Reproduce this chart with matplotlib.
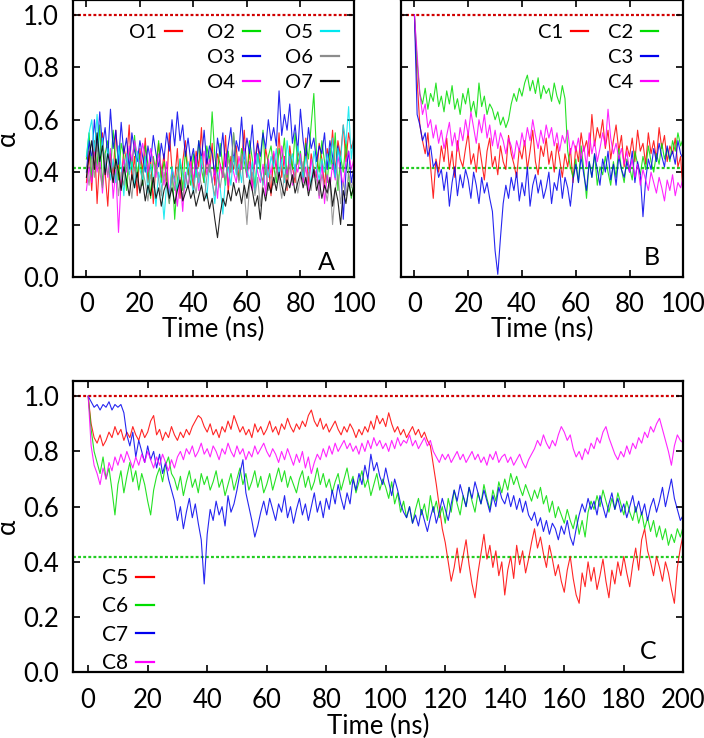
import numpy as np
import matplotlib
matplotlib.use('Agg')
import matplotlib.pyplot as plt
from matplotlib.lines import Line2D
from matplotlib.ticker import FormatStrFormatter

plt.rcParams['font.family'] = ['Lato', 'DejaVu Sans']

# ---------------- Panel A (open), t = 0..100 ns, 1 ns step ----------------
O1 = [0.36,0.48,0.33,0.52,0.28,0.46,0.55,0.40,0.27,0.47,
      0.39,0.56,0.42,0.34,0.50,0.44,0.58,0.37,0.46,0.31,
      0.49,0.40,0.53,0.36,0.45,0.28,0.43,0.51,0.38,0.47,
      0.34,0.55,0.41,0.37,0.49,0.30,0.44,0.52,0.39,0.46,
      0.33,0.48,0.42,0.57,0.36,0.45,0.40,0.51,0.35,0.47,
      0.43,0.38,0.54,0.32,0.46,0.41,0.50,0.37,0.44,0.56,
      0.39,0.48,0.34,0.45,0.52,0.40,0.36,0.49,0.43,0.31,
      0.47,0.41,0.55,0.38,0.46,0.33,0.50,0.42,0.36,0.48,
      0.44,0.39,0.53,0.35,0.47,0.41,0.38,0.51,0.45,0.34,
      0.49,0.43,0.56,0.40,0.52,0.46,0.58,0.44,0.55,0.49,
      0.53]
O2 = [0.45,0.55,0.38,0.50,0.42,0.58,0.35,0.47,0.52,0.40,
      0.56,0.44,0.37,0.51,0.46,0.33,0.49,0.41,0.54,0.38,
      0.47,0.35,0.50,0.43,0.30,0.46,0.40,0.52,0.36,0.44,
      0.39,0.28,0.42,0.22,0.37,0.45,0.33,0.48,0.40,0.35,
      0.47,0.38,0.52,0.41,0.36,0.50,0.44,0.63,0.46,0.39,
      0.51,0.42,0.35,0.48,0.40,0.55,0.43,0.37,0.49,0.44,
      0.38,0.52,0.45,0.34,0.47,0.41,0.56,0.39,0.46,0.50,
      0.42,0.36,0.49,0.44,0.53,0.38,0.47,0.41,0.55,0.43,
      0.48,0.37,0.51,0.45,0.58,0.70,0.47,0.40,0.52,0.44,
      0.36,0.49,0.41,0.55,0.33,0.46,0.40,0.52,0.38,0.30,
      0.36]
O3 = [0.40,0.52,0.45,0.60,0.48,0.63,0.50,0.57,0.46,0.64,
      0.49,0.56,0.43,0.59,0.47,0.53,0.41,0.55,0.48,0.44,
      0.52,0.46,0.40,0.50,0.44,0.54,0.47,0.42,0.51,0.45,
      0.55,0.48,0.60,0.50,0.63,0.52,0.58,0.46,0.53,0.44,
      0.49,0.41,0.52,0.45,0.56,0.43,0.50,0.47,0.39,0.53,
      0.46,0.55,0.42,0.50,0.57,0.44,0.52,0.48,0.61,0.45,
      0.53,0.47,0.58,0.43,0.51,0.46,0.55,0.49,0.60,0.52,
      0.57,0.50,0.71,0.54,0.62,0.56,0.66,0.51,0.58,0.48,
      0.64,0.52,0.45,0.57,0.49,0.53,0.44,0.50,0.47,0.55,
      0.41,0.52,0.46,0.38,0.50,0.43,0.22,0.40,0.48,0.36,
      0.42]
O4 = [0.33,0.42,0.36,0.50,0.40,0.46,0.32,0.44,0.38,0.49,
      0.30,0.41,0.17,0.37,0.45,0.40,0.50,0.44,0.52,0.47,
      0.43,0.51,0.46,0.40,0.49,0.44,0.38,0.47,0.42,0.35,
      0.44,0.31,0.41,0.36,0.27,0.38,0.25,0.40,0.34,0.44,
      0.37,0.46,0.33,0.42,0.48,0.39,0.45,0.36,0.41,0.30,
      0.43,0.38,0.47,0.35,0.44,0.40,0.36,0.46,0.41,0.49,
      0.38,0.44,0.33,0.47,0.40,0.36,0.43,0.31,0.45,0.39,
      0.48,0.42,0.37,0.50,0.44,0.39,0.46,0.35,0.43,0.40,
      0.47,0.36,0.42,0.33,0.45,0.38,0.41,0.30,0.44,0.28,
      0.39,0.34,0.43,0.37,0.46,0.40,0.35,0.44,0.48,0.41,
      0.45]
O5 = [0.46,0.55,0.60,0.48,0.62,0.44,0.53,0.40,0.49,0.37,
      0.45,0.36,0.50,0.42,0.31,0.47,0.39,0.44,0.34,0.48,
      0.41,0.37,0.46,0.32,0.43,0.38,0.27,0.40,0.35,0.22,
      0.36,0.30,0.42,0.37,0.33,0.45,0.39,0.34,0.44,0.38,
      0.32,0.41,0.36,0.46,0.39,0.30,0.43,0.37,0.28,0.40,
      0.34,0.24,0.38,0.42,0.35,0.46,0.39,0.43,0.36,0.48,
      0.41,0.37,0.44,0.32,0.47,0.40,0.35,0.43,0.38,0.46,
      0.42,0.49,0.39,0.45,0.36,0.52,0.43,0.47,0.40,0.50,
      0.44,0.38,0.46,0.41,0.35,0.48,0.42,0.37,0.45,0.40,
      0.47,0.42,0.53,0.38,0.49,0.44,0.58,0.51,0.65,0.45,
      0.55]
O6 = [0.42,0.35,0.46,0.38,0.51,0.40,0.34,0.47,0.39,0.43,
      0.36,0.45,0.31,0.40,0.35,0.44,0.38,0.30,0.42,0.37,
      0.33,0.41,0.36,0.29,0.39,0.34,0.43,0.37,0.31,0.40,
      0.35,0.28,0.38,0.33,0.42,0.36,0.30,0.39,0.34,0.41,
      0.37,0.32,0.40,0.35,0.29,0.38,0.43,0.36,0.31,0.39,
      0.34,0.41,0.37,0.45,0.40,0.55,0.42,0.36,0.47,0.33,
      0.20,0.35,0.40,0.31,0.38,0.27,0.36,0.42,0.33,0.39,
      0.35,0.41,0.37,0.30,0.39,0.34,0.43,0.36,0.40,0.32,
      0.38,0.44,0.35,0.40,0.33,0.42,0.37,0.31,0.39,0.35,
      0.29,0.37,0.20,0.33,0.39,0.28,0.36,0.31,0.40,0.34,
      0.38]
O7 = [0.38,0.46,0.52,0.41,0.55,0.44,0.50,0.39,0.47,0.42,
      0.36,0.45,0.40,0.33,0.42,0.37,0.31,0.39,0.34,0.40,
      0.32,0.37,0.29,0.35,0.31,0.38,0.30,0.34,0.27,0.33,
      0.36,0.30,0.34,0.28,0.33,0.37,0.29,0.32,0.35,0.30,
      0.33,0.27,0.31,0.35,0.29,0.32,0.26,0.30,0.22,0.15,
      0.24,0.30,0.27,0.33,0.29,0.36,0.31,0.34,0.28,0.35,
      0.30,0.37,0.33,0.27,0.31,0.22,0.34,0.29,0.36,0.32,
      0.38,0.33,0.40,0.35,0.31,0.37,0.34,0.39,0.32,0.36,
      0.40,0.34,0.38,0.31,0.36,0.41,0.33,0.37,0.30,0.35,
      0.32,0.38,0.27,0.34,0.29,0.20,0.33,0.28,0.36,0.31,
      0.35]

# ---------------- Panel B (closed), t = 0..100 ns ----------------
C1 = [1.00,0.75,0.58,0.52,0.47,0.55,0.42,0.30,0.45,0.40,
      0.50,0.44,0.53,0.41,0.48,0.38,0.52,0.45,0.42,0.49,
      0.55,0.43,0.47,0.40,0.51,0.44,0.37,0.48,0.53,0.42,
      0.46,0.39,0.50,0.44,0.41,0.54,0.47,0.43,0.38,0.49,
      0.45,0.52,0.41,0.48,0.56,0.44,0.39,0.50,0.46,0.53,
      0.43,0.48,0.40,0.51,0.45,0.38,0.47,0.42,0.49,0.36,
      0.50,0.44,0.55,0.48,0.52,0.46,0.62,0.50,0.57,0.53,
      0.60,0.49,0.56,0.45,0.52,0.58,0.48,0.54,0.42,0.50,
      0.46,0.53,0.44,0.56,0.48,0.51,0.43,0.55,0.47,0.52,
      0.45,0.57,0.49,0.54,0.44,0.50,0.47,0.53,0.42,0.46,
      0.30]
C2 = [1.00,0.82,0.70,0.66,0.72,0.64,0.70,0.67,0.74,0.65,
      0.69,0.63,0.71,0.66,0.73,0.64,0.68,0.62,0.70,0.66,
      0.72,0.63,0.67,0.61,0.74,0.65,0.69,0.62,0.66,0.64,
      0.60,0.63,0.58,0.61,0.57,0.60,0.66,0.70,0.67,0.72,
      0.69,0.74,0.77,0.71,0.75,0.70,0.76,0.68,0.73,0.70,
      0.72,0.67,0.74,0.69,0.66,0.73,0.68,0.48,0.42,0.38,
      0.45,0.36,0.50,0.41,0.30,0.44,0.38,0.47,0.35,0.42,
      0.39,0.46,0.40,0.35,0.44,0.38,0.49,0.41,0.36,0.45,
      0.42,0.37,0.48,0.43,0.39,0.46,0.41,0.50,0.44,0.40,
      0.47,0.43,0.51,0.45,0.49,0.44,0.52,0.48,0.55,0.50,
      0.53]
C3 = [1.00,0.62,0.58,0.52,0.55,0.46,0.50,0.42,0.44,0.38,
      0.41,0.33,0.40,0.27,0.36,0.42,0.31,0.39,0.34,0.41,
      0.37,0.30,0.40,0.35,0.28,0.38,0.32,0.36,0.30,0.25,
      0.10,0.01,0.15,0.28,0.35,0.30,0.38,0.33,0.40,0.29,
      0.36,0.31,0.42,0.27,0.35,0.39,0.32,0.37,0.30,0.34,
      0.40,0.28,0.36,0.33,0.41,0.30,0.38,0.34,0.27,0.37,
      0.43,0.36,0.46,0.39,0.33,0.44,0.38,0.47,0.41,0.35,
      0.45,0.40,0.48,0.37,0.43,0.35,0.46,0.41,0.38,0.44,
      0.40,0.48,0.36,0.44,0.39,0.23,0.37,0.45,0.41,0.49,
      0.44,0.51,0.46,0.42,0.50,0.45,0.48,0.43,0.52,0.47,
      0.45]
C4 = [1.00,0.85,0.70,0.62,0.66,0.57,0.60,0.53,0.58,0.51,
      0.56,0.49,0.54,0.59,0.50,0.55,0.48,0.57,0.52,0.60,
      0.54,0.63,0.57,0.51,0.60,0.55,0.62,0.53,0.58,0.50,
      0.56,0.49,0.55,0.52,0.47,0.53,0.50,0.45,0.52,0.48,
      0.55,0.50,0.57,0.52,0.60,0.54,0.49,0.56,0.51,0.58,
      0.53,0.57,0.50,0.55,0.48,0.54,0.51,0.56,0.47,0.52,
      0.48,0.53,0.45,0.50,0.42,0.55,0.47,0.52,0.44,0.49,
      0.55,0.50,0.64,0.53,0.47,0.51,0.45,0.49,0.43,0.48,
      0.40,0.45,0.38,0.43,0.35,0.41,0.37,0.33,0.40,0.36,
      0.32,0.38,0.34,0.29,0.37,0.33,0.39,0.31,0.36,0.34,
      0.38]

# ---------------- Panel C (closed), t = 0..200 ns ----------------
C5 = [1.00,0.90,0.85,0.83,0.86,0.82,0.84,0.87,0.85,0.89,
      0.86,0.88,0.84,0.87,0.85,0.89,0.86,0.84,0.88,0.85,
      0.87,0.91,0.93,0.86,0.88,0.84,0.87,0.85,0.89,0.86,
      0.84,0.87,0.85,0.88,0.86,0.89,0.91,0.93,0.92,0.89,
      0.87,0.90,0.86,0.88,0.85,0.89,0.87,0.91,0.88,0.93,
      0.90,0.87,0.89,0.86,0.88,0.85,0.90,0.87,0.89,0.86,
      0.88,0.91,0.87,0.89,0.86,0.90,0.88,0.92,0.89,0.87,
      0.90,0.88,0.91,0.89,0.93,0.95,0.91,0.89,0.92,0.88,
      0.90,0.87,0.89,0.91,0.88,0.86,0.89,0.87,0.90,0.88,
      0.85,0.88,0.86,0.89,0.87,0.91,0.88,0.93,0.90,0.92,
      0.89,0.94,0.90,0.87,0.89,0.86,0.88,0.85,0.87,0.89,
      0.86,0.88,0.85,0.87,0.84,0.82,0.75,0.68,0.60,0.52,
      0.47,0.40,0.33,0.38,0.45,0.36,0.42,0.48,0.39,0.32,
      0.27,0.36,0.43,0.50,0.41,0.46,0.38,0.44,0.35,0.40,
      0.28,0.37,0.42,0.34,0.46,0.39,0.44,0.36,0.41,0.47,
      0.52,0.45,0.49,0.43,0.38,0.46,0.41,0.35,0.39,0.33,
      0.29,0.37,0.42,0.34,0.28,0.25,0.36,0.31,0.40,0.33,
      0.38,0.30,0.35,0.41,0.33,0.27,0.37,0.32,0.40,0.35,
      0.42,0.36,0.31,0.39,0.45,0.37,0.48,0.52,0.44,0.40,
      0.35,0.42,0.38,0.33,0.40,0.36,0.30,0.25,0.38,0.45,
      0.50]
C6 = [1.00,0.88,0.80,0.76,0.72,0.78,0.70,0.74,0.66,0.57,
      0.68,0.73,0.65,0.71,0.76,0.69,0.73,0.66,0.72,0.68,
      0.62,0.57,0.66,0.71,0.74,0.69,0.75,0.78,0.72,0.70,
      0.66,0.71,0.64,0.69,0.73,0.67,0.70,0.65,0.72,0.68,
      0.71,0.66,0.69,0.73,0.67,0.70,0.64,0.68,0.72,0.66,
      0.70,0.74,0.68,0.72,0.66,0.69,0.73,0.67,0.71,0.65,
      0.68,0.72,0.66,0.70,0.74,0.69,0.73,0.67,0.71,0.68,
      0.65,0.70,0.73,0.67,0.71,0.66,0.69,0.74,0.68,0.72,
      0.67,0.70,0.65,0.69,0.72,0.66,0.70,0.74,0.68,0.71,
      0.65,0.69,0.73,0.67,0.70,0.64,0.68,0.72,0.66,0.70,
      0.67,0.63,0.69,0.61,0.65,0.58,0.62,0.56,0.60,0.54,
      0.59,0.63,0.57,0.61,0.55,0.64,0.58,0.62,0.56,0.60,
      0.54,0.63,0.58,0.66,0.61,0.57,0.64,0.60,0.67,0.62,
      0.58,0.65,0.61,0.68,0.63,0.59,0.66,0.62,0.69,0.65,
      0.70,0.66,0.72,0.68,0.71,0.67,0.64,0.68,0.65,0.62,
      0.66,0.63,0.67,0.61,0.64,0.58,0.62,0.56,0.60,0.57,
      0.54,0.59,0.55,0.52,0.57,0.50,0.55,0.49,0.58,0.62,
      0.59,0.64,0.60,0.66,0.62,0.58,0.63,0.59,0.65,0.61,
      0.57,0.62,0.58,0.55,0.60,0.54,0.58,0.52,0.56,0.51,
      0.55,0.49,0.53,0.48,0.52,0.46,0.50,0.47,0.52,0.49,
      0.53]
C7 = [1.00,0.98,0.96,0.97,0.95,0.97,0.96,0.98,0.95,0.97,
      0.96,0.97,0.94,0.86,0.82,0.87,0.78,0.84,0.80,0.76,
      0.82,0.77,0.80,0.74,0.79,0.72,0.76,0.70,0.66,0.62,
      0.55,0.60,0.52,0.58,0.63,0.56,0.61,0.54,0.48,0.32,
      0.50,0.59,0.55,0.62,0.57,0.60,0.53,0.64,0.58,0.61,
      0.66,0.72,0.77,0.65,0.60,0.55,0.49,0.53,0.58,0.62,
      0.57,0.63,0.59,0.55,0.61,0.58,0.64,0.56,0.60,0.54,
      0.59,0.63,0.57,0.61,0.55,0.60,0.65,0.58,0.62,0.56,
      0.63,0.59,0.66,0.61,0.68,0.63,0.59,0.65,0.61,0.70,
      0.66,0.72,0.68,0.75,0.70,0.79,0.73,0.76,0.71,0.68,
      0.74,0.69,0.64,0.70,0.66,0.61,0.58,0.56,0.60,0.54,
      0.57,0.53,0.59,0.55,0.51,0.56,0.60,0.54,0.58,0.63,
      0.59,0.55,0.61,0.66,0.62,0.68,0.64,0.60,0.67,0.63,
      0.69,0.65,0.61,0.66,0.62,0.58,0.64,0.60,0.67,0.63,
      0.61,0.65,0.60,0.64,0.59,0.63,0.58,0.62,0.57,0.55,
      0.58,0.53,0.56,0.51,0.55,0.50,0.54,0.52,0.48,0.53,
      0.50,0.55,0.49,0.46,0.52,0.57,0.61,0.58,0.63,0.59,
      0.62,0.57,0.64,0.60,0.56,0.61,0.65,0.59,0.63,0.58,
      0.61,0.56,0.60,0.64,0.58,0.62,0.57,0.61,0.55,0.60,
      0.63,0.58,0.62,0.67,0.60,0.65,0.70,0.63,0.59,0.55,
      0.57]
C8 = [1.00,0.82,0.75,0.72,0.68,0.74,0.70,0.76,0.73,0.78,
      0.75,0.79,0.76,0.80,0.77,0.74,0.78,0.75,0.79,0.76,
      0.80,0.77,0.74,0.78,0.75,0.79,0.76,0.73,0.77,0.74,
      0.78,0.80,0.77,0.81,0.79,0.82,0.78,0.80,0.83,0.79,
      0.81,0.78,0.82,0.80,0.77,0.81,0.79,0.83,0.80,0.78,
      0.82,0.79,0.81,0.77,0.80,0.78,0.82,0.79,0.81,0.83,
      0.80,0.78,0.81,0.79,0.76,0.80,0.77,0.81,0.78,0.75,
      0.79,0.76,0.80,0.74,0.78,0.72,0.76,0.79,0.77,0.81,
      0.78,0.82,0.79,0.83,0.80,0.82,0.84,0.81,0.83,0.80,
      0.82,0.79,0.83,0.80,0.84,0.81,0.85,0.82,0.84,0.81,
      0.83,0.80,0.84,0.81,0.85,0.82,0.84,0.83,0.86,0.82,
      0.84,0.81,0.83,0.85,0.82,0.84,0.80,0.78,0.76,0.79,
      0.77,0.79,0.76,0.78,0.80,0.77,0.79,0.76,0.78,0.80,
      0.77,0.79,0.76,0.78,0.75,0.79,0.77,0.80,0.76,0.78,
      0.79,0.76,0.78,0.75,0.77,0.79,0.76,0.74,0.77,0.79,
      0.81,0.84,0.82,0.86,0.83,0.81,0.84,0.82,0.86,0.89,
      0.87,0.84,0.86,0.81,0.78,0.80,0.77,0.81,0.79,0.83,
      0.81,0.85,0.83,0.87,0.89,0.85,0.82,0.79,0.77,0.80,
      0.78,0.82,0.79,0.83,0.81,0.85,0.83,0.87,0.85,0.89,
      0.87,0.90,0.92,0.88,0.84,0.80,0.75,0.82,0.86,0.84,
      0.83]

ref_high = 1.0
ref_low = 0.416

labels_A = ['O1', 'O2', 'O3', 'O4', 'O5', 'O6', 'O7']
labels_B = ['C1', 'C2', 'C3', 'C4']
labels_C = ['C5', 'C6', 'C7', 'C8']

RED, GREEN, BLUE, MAG, CYAN, GRAY, BLACK = ('#ff0000', '#00dd00', '#0000ee',
                                           '#ff00ff', '#00e8f0', '#8c8c8c', '#000000')
colors_A = [RED, GREEN, BLUE, MAG, CYAN, GRAY, BLACK]
colors_4 = [RED, GREEN, BLUE, MAG]

fig = plt.figure(figsize=(7.04, 7.38), dpi=100)
axA = fig.add_axes([0.1037, 0.6247, 0.3991, 0.3747])
axB = fig.add_axes([0.5696, 0.6247, 0.4010, 0.3747])
axC = fig.add_axes([0.1041, 0.0890, 0.8665, 0.3947])

FS = 18.5


def style(ax, xmax, xticks, ylab_x=None, xlabpad=0):
    ax.set_xlim(-5, xmax)
    ax.set_ylim(0, 1.055)
    ax.set_xticks(xticks)
    ax.set_yticks(np.arange(0, 1.01, 0.2))
    ax.yaxis.set_major_formatter(FormatStrFormatter('%.1f'))
    ax.tick_params(direction='in', top=True, right=True, length=5, width=1.2,
                   labelsize=FS, pad=10)
    ax.tick_params(axis='x', pad=11)
    for s in ax.spines.values():
        s.set_linewidth(1.6)
    ax.set_xlabel('Time (ns)', fontsize=FS, labelpad=xlabpad)
    if ylab_x is not None:
        ax.set_ylabel('α', fontsize=FS)
        ax.yaxis.set_label_coords(ylab_x, 0.5)
    else:
        ax.tick_params(labelleft=False)
    ax.axhline(ref_high, color='#d00000', lw=1.6, ls=(0, (1.3, 1.0)), zorder=1)
    ax.axhline(ref_low, color='#22cc22', lw=1.6, ls=(0, (1.3, 1.0)), zorder=1)


def blank():
    return Line2D([], [], linestyle='none')


leg_kw = dict(frameon=False, markerfirst=False, handlelength=0.85, handletextpad=0.4,
              labelspacing=0.4, borderpad=0, borderaxespad=0)

# Panel A
style(axA, 100, np.arange(0, 101, 20), ylab_x=-0.189)
hA = []
for vals, c, lab in zip([O1, O2, O3, O4, O5, O6, O7], colors_A, labels_A):
    t = np.linspace(0, 100, len(vals))
    axA.plot(t, vals, color=c, lw=0.8, alpha=0.85, zorder=2)
    hA.append(Line2D([], [], color=c, lw=1.6))
axA.legend([hA[0], blank(), blank(), hA[1], hA[2], hA[3], hA[4], hA[5], hA[6]],
           [labels_A[0], '', '', labels_A[1], labels_A[2], labels_A[3],
            labels_A[4], labels_A[5], labels_A[6]],
           ncol=3, loc='upper right', bbox_to_anchor=(0.945, 0.915), fontsize=14.5,
           columnspacing=1.25, **leg_kw)
axA.text(0.93, 0.025, 'A', transform=axA.transAxes, ha='right', va='baseline', fontsize=18)

# Panel B
style(axB, 100, np.arange(0, 101, 20))
hB = []
for vals, c, lab in zip([C1, C2, C3, C4], colors_4, labels_B):
    t = np.linspace(0, 100, len(vals))
    axB.plot(t, vals, color=c, lw=0.8, alpha=0.85, zorder=2)
    hB.append(Line2D([], [], color=c, lw=1.6))
axB.legend([hB[0], blank(), blank(), hB[1], hB[2], hB[3]],
           [labels_B[0], '', '', labels_B[1], labels_B[2], labels_B[3]],
           ncol=2, loc='upper right', bbox_to_anchor=(0.912, 0.915), fontsize=14.5,
           columnspacing=1.0, **leg_kw)
axB.text(0.916, 0.043, 'B', transform=axB.transAxes, ha='right', va='baseline', fontsize=18)

# Panel C
style(axC, 200, np.arange(0, 201, 20), ylab_x=-0.0874, xlabpad=1)
hC = []
for vals, c, lab in zip([C5, C6, C7, C8], colors_4, labels_C):
    t = np.linspace(0, 200, len(vals))
    axC.plot(t, vals, color=c, lw=0.8, alpha=0.85, zorder=2)
    hC.append(Line2D([], [], color=c, lw=1.6))
axC.legend(hC, labels_C, ncol=1, loc='lower left', bbox_to_anchor=(0.047, -0.002),
           fontsize=15, **leg_kw)
axC.text(0.956, 0.046, 'C', transform=axC.transAxes, ha='right', va='baseline', fontsize=18)

fig.savefig('out.png', dpi=100)
